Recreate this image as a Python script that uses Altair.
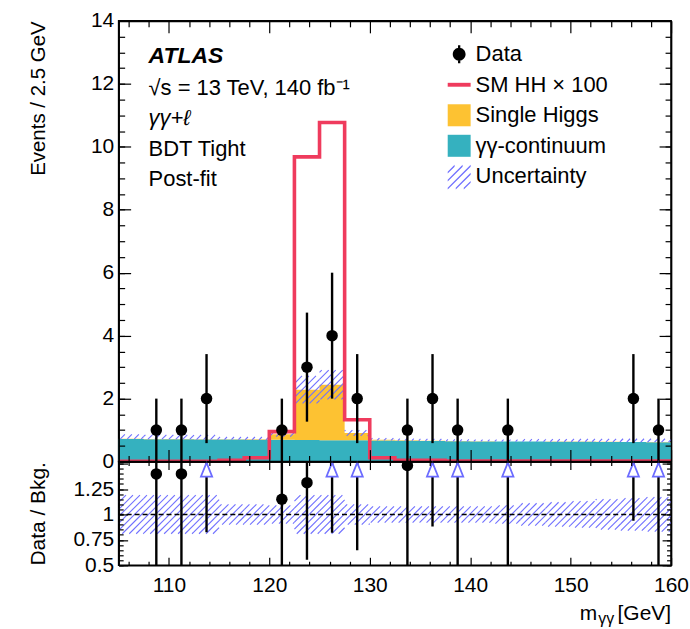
import math
import altair as alt
import pandas as pd

# ---------------- values ----------------
BIN_EDGES = [105.0, 107.5, 110.0, 112.5, 115.0, 117.5, 120.0, 122.5, 125.0, 127.5, 130.0,
             132.5, 135.0, 137.5, 140.0, 142.5, 145.0, 147.5, 150.0, 152.5, 155.0, 157.5, 160.0]
MASS = [106.25, 108.75, 111.25, 113.75, 116.25, 118.75, 121.25, 123.75, 126.25, 128.75, 131.25,
        133.75, 136.25, 138.75, 141.25, 143.75, 146.25, 148.75, 151.25, 153.75, 156.25, 158.75]
DATA = [0, 1, 1, 2, 0, 0, 1, 3, 4, 2, 0, 1, 2, 1, 0, 1, 0, 0, 0, 0, 2, 1]
CONTINUUM = [0.72, 0.71, 0.71, 0.70, 0.70, 0.69, 0.69, 0.685, 0.68, 0.675, 0.67,
             0.665, 0.655, 0.645, 0.64, 0.635, 0.635, 0.63, 0.63, 0.625, 0.62, 0.615]
SINGLE_HIGGS = [0.005, 0.005, 0.005, 0.01, 0.01, 0.02, 0.18, 1.60, 1.76, 0.23, 0.02,
                0.01, 0.01, 0.005, 0.005, 0.005, 0.005, 0.005, 0.005, 0.005, 0.005, 0.005]
HH_X100 = [0.01, 0.01, 0.01, 0.01, 0.04, 0.12, 0.95, 9.68, 10.77, 1.33, 0.12,
           0.04, 0.04, 0.02, 0.02, 0.02, 0.02, 0.02, 0.02, 0.02, 0.02, 0.02]
REL_UNC = [0.19, 0.19, 0.19, 0.19, 0.10, 0.10, 0.09, 0.19, 0.19, 0.10, 0.08,
           0.08, 0.08, 0.08, 0.08, 0.09, 0.11, 0.12, 0.13, 0.15, 0.16, 0.17]

SERIES = ["Data", "SM HH \u00d7 100", "Single Higgs", "\u03b3\u03b3-continuum", "Uncertainty"]

X_MAJOR = [110, 120, 130, 140, 150, 160]
X_MINOR = [106, 108, 112, 114, 116, 118, 122, 124, 126, 128, 132, 134, 136, 138,
           142, 144, 146, 148, 152, 154, 156, 158]
Y_MAJOR = [0, 2, 4, 6, 8, 10, 12, 14]
Y_MINOR = [k * 0.5 for k in range(0, 29)]
R_LABELS = [0.5, 0.75, 1, 1.25]
R_MAJOR = [0.5, 0.75, 1.0, 1.25, 1.5]
R_MINOR = [round(0.5 + k * 0.05, 2) for k in range(0, 21)]

XDOM = [105, 160]
YDOM = [0, 14]
RDOM = [0.5, 1.52]

# ---------------- style ----------------
FONT = "Liberation Sans"
TEAL = "#35B1BF"
YELLOW = "#FDC232"
RED = "#EF3B5D"
HATCH = "#7070FF"
ARROW = "#6B6BFF"
W, H1, H2 = 554, 442, 104

# ---------------- derived tables ----------------
total = [c + s for c, s in zip(CONTINUUM, SINGLE_HIGGS)]

step_df = pd.DataFrame({
    "x": BIN_EDGES,
    "cont": CONTINUUM + [CONTINUUM[-1]],
    "tot": total + [total[-1]],
    "hh": HH_X100 + [HH_X100[-1]],
})

def hatch_rows(lo, hi, ky, y0, step=7.0):
    kx = W / (XDOM[1] - XDOM[0])
    rows = []
    for i in range(len(lo)):
        xa = (BIN_EDGES[i] - XDOM[0]) * kx
        xb = (BIN_EDGES[i + 1] - XDOM[0]) * kx
        ya = (lo[i] - y0) * ky
        yb = (hi[i] - y0) * ky
        if yb <= ya:
            continue
        k0 = math.ceil((xa - yb) / step)
        k1 = math.floor((xb - ya) / step)
        for k in range(k0, k1 + 1):
            c = k * step
            x1 = max(xa, ya + c)
            x2 = min(xb, yb + c)
            if x2 - x1 < 0.3:
                continue
            rows.append({"x": XDOM[0] + x1 / kx, "x2": XDOM[0] + x2 / kx,
                         "y": y0 + (x1 - c) / ky, "y2": y0 + (x2 - c) / ky})
    return pd.DataFrame(rows)

main_lo = [max(t * (1 - r), c) for t, r, c in zip(total, REL_UNC, CONTINUUM)]
main_hi = [t * (1 + r) for t, r in zip(total, REL_UNC)]
hatch_main = hatch_rows(main_lo, main_hi, H1 / (YDOM[1] - YDOM[0]), YDOM[0])
hatch_ratio = hatch_rows([1 - r for r in REL_UNC], [1 + r for r in REL_UNC],
                         H2 / (RDOM[1] - RDOM[0]), RDOM[0])

pts = []
for m, n, t in zip(MASS, DATA, total):
    if n <= 0:
        continue
    e = math.sqrt(n)
    pts.append({"m": m, "n": n, "lo": n - e, "hi": n + e,
                "r": n / t, "rlo": (n - e) / t, "rhi": (n + e) / t,
                "top": RDOM[1], "arrow": n / t > RDOM[1]})
pts_df = pd.DataFrame(pts)
dots_r = pts_df[~pts_df["arrow"]]
arrows_r = pts_df[pts_df["arrow"]]

line1_df = pd.DataFrame({"x": [XDOM[0]], "x2": [XDOM[1]], "y": [1.0]})
legend_df = pd.DataFrame({"series": SERIES})
one = pd.DataFrame({"a": [0]})

# legend symbol paths
def hatch_path():
    parts = []
    d = 0.16
    for c in [-1.4, -0.7, 0.0, 0.7, 1.4]:
        x1 = max(-1.0, c - 1.0)
        x2 = min(1.0, c + 1.0)
        parts.append(f"M{x1:.3f},{c - x1:.3f}L{x2:.3f},{c - x2:.3f}"
                     f"L{x2:.3f},{c - x2 + d:.3f}L{x1:.3f},{c - x1 + d:.3f}Z")
    return "".join(parts)

DATA_PATH = ("M-0.56,0A0.56,0.56 0 1,1 0.56,0A0.56,0.56 0 1,1 -0.56,0Z"
             "M-0.1,-0.78H0.1V-0.55H-0.1Z M-0.1,0.55H0.1V0.78H-0.1Z")
LINE_PATH = "M-1,-0.17H1V0.17H-1Z"
SQUARE_PATH = "M-1,-0.96H1V0.96H-1Z"
LEG_PATHS = [DATA_PATH, LINE_PATH, SQUARE_PATH, SQUARE_PATH, hatch_path()]
LEG_COLORS = ["black", RED, YELLOW, TEAL, HATCH]
TRI_PATH = "M0,-1L0.8,1L-0.8,1Z"

# ---------------- scales & axes ----------------
xs = alt.Scale(domain=XDOM, nice=False, zero=False)
ys = alt.Scale(domain=YDOM, nice=False, zero=False)
rs = alt.Scale(domain=RDOM, nice=False, zero=False)

def tick_axis(orient, offset, values, size, domain=False):
    return alt.Axis(orient=orient, offset=offset, values=values, tickSize=size,
                    labels=False, domain=domain, domainColor="black", domainWidth=1.6,
                    grid=False, title=None, ticks=True, tickColor="black",
                    tickWidth=1.2, minExtent=0, maxExtent=0, zindex=1)

# main panel axes
ax_b_maj = tick_axis("top", -H1, X_MAJOR, 12, True)
ax_b_min = tick_axis("top", -H1, X_MINOR, 6)
ax_t_maj = tick_axis("bottom", -H1, X_MAJOR, 12, True)
ax_t_min = tick_axis("bottom", -H1, X_MINOR, 6)
ay_lab = alt.Axis(orient="left", values=Y_MAJOR, format="d", ticks=False, domain=False,
                  grid=False, labelFontSize=21, labelPadding=5, labelColor="black",
                  labelFont=FONT, title="Events / 2.5 GeV", titleAnchor="end",
                  titleFontSize=20.5, titleFontWeight="normal", titleColor="black",
                  titleFont=FONT, titlePadding=30, minExtent=40, maxExtent=40)
ay_l_maj = tick_axis("right", -W, Y_MAJOR, 12, True)
ay_l_min = tick_axis("right", -W, Y_MINOR, 6)
ay_r_maj = tick_axis("left", -W, Y_MAJOR, 12, True)
ay_r_min = tick_axis("left", -W, Y_MINOR, 6)

# ratio panel axes
rx_lab = alt.Axis(orient="bottom", values=X_MAJOR, format="d", ticks=False, domain=False,
                  grid=False, labelFontSize=21, labelPadding=9, labelFlush=False,
                  labelOverlap=False, labelColor="black", labelFont=FONT,
                  title=None, minExtent=30, maxExtent=30)
rx_b_maj = tick_axis("top", -H2, X_MAJOR, 8, True)
rx_b_min = tick_axis("top", -H2, X_MINOR, 4)
rx_t_maj = tick_axis("bottom", -H2, X_MAJOR, 8, True)
rx_t_min = tick_axis("bottom", -H2, X_MINOR, 4)
ry_lab = alt.Axis(orient="left", values=R_LABELS, format=".3~g", ticks=False, domain=False,
                  grid=False, labelFontSize=21, labelPadding=5, labelColor="black",
                  labelFont=FONT, title="Data / Bkg.", titleAnchor="end",
                  titleFontSize=21, titleFontWeight="normal", titleColor="black",
                  titleFont=FONT, titlePadding=30, minExtent=40, maxExtent=40)
ry_l_maj = tick_axis("right", -W, R_MAJOR, 9, True)
ry_l_min = tick_axis("right", -W, R_MINOR, 4.5)
ry_r_maj = tick_axis("left", -W, R_MAJOR, 9, True)
ry_r_min = tick_axis("left", -W, R_MINOR, 4.5)

# ---------------- main panel ----------------
teal = alt.Chart(step_df).mark_area(interpolate="step-after", color=TEAL).encode(
    x=alt.X("x:Q", scale=xs, axis=ax_b_maj),
    y=alt.Y("cont:Q", scale=ys, axis=ay_lab))
yellow = alt.Chart(step_df).mark_area(interpolate="step-after", color=YELLOW).encode(
    x=alt.X("x:Q", scale=xs, axis=ax_b_min),
    y=alt.Y("tot:Q", scale=ys, axis=ay_l_maj), y2="cont:Q")
hatch1 = alt.Chart(hatch_main).mark_rule(color=HATCH, strokeWidth=1.1).encode(
    x=alt.X("x:Q", scale=xs, axis=ax_t_maj), x2="x2:Q",
    y=alt.Y("y:Q", scale=ys, axis=ay_l_min), y2="y2:Q")
hh = alt.Chart(step_df).mark_line(interpolate="step-after", color=RED, strokeWidth=3.6,
                                  strokeJoin="miter").encode(
    x=alt.X("x:Q", scale=xs, axis=ax_t_min),
    y=alt.Y("hh:Q", scale=ys, axis=ay_r_maj))
err1 = alt.Chart(pts_df).mark_rule(color="black", strokeWidth=2.4).encode(
    x=alt.X("m:Q", scale=xs, axis=None),
    y=alt.Y("lo:Q", scale=ys, axis=ay_r_min), y2="hi:Q")
dots1 = alt.Chart(pts_df).mark_point(filled=True, color="black", size=133, opacity=1).encode(
    x=alt.X("m:Q", scale=xs, axis=None),
    y=alt.Y("n:Q", scale=ys, axis=None))

leg = alt.Legend(orient="none", legendX=330, legendY=22, title=None, symbolSize=529,
                 labelFontSize=22, labelFont=FONT, labelColor="black", labelOffset=5,
                 rowPadding=7.6, padding=0, symbolStrokeWidth=0, symbolOpacity=1,
                 labelLimit=400)
legend_layer = alt.Chart(legend_df).mark_point(filled=True, clip=True, opacity=1).encode(
    x=alt.value(-400), y=alt.value(-400),
    color=alt.Color("series:N", scale=alt.Scale(domain=SERIES, range=LEG_COLORS), legend=leg),
    shape=alt.Shape("series:N", scale=alt.Scale(domain=SERIES, range=LEG_PATHS), legend=leg))

def label(text, x, y, size=22, weight="normal", style="normal", align="left"):
    return alt.Chart(one).mark_text(text=text, font=FONT, fontSize=size, fontWeight=weight,
                                    fontStyle=style, align=align, baseline="alphabetic",
                                    color="black").encode(x=alt.value(x), y=alt.value(y))

texts = [
    label("ATLAS", 30, 42.5, size=23, weight="bold", style="italic"),
    label("\u221as = 13 TeV, 140 fb\u207b\u00b9", 30, 74),
    label("\u03b3\u03b3+\u2113", 30, 104.5, style="italic"),
    label("BDT Tight", 30, 136),
    label("Post-fit", 30, 166),
]

main = alt.layer(teal, yellow, hatch1, hh, err1, dots1, legend_layer, *texts).resolve_axis(
    x="independent", y="independent").properties(width=W, height=H1)

# ---------------- ratio panel ----------------
hatch2 = alt.Chart(hatch_ratio).mark_rule(color=HATCH, strokeWidth=1.1, clip=True).encode(
    x=alt.X("x:Q", scale=xs, axis=rx_lab), x2="x2:Q",
    y=alt.Y("y:Q", scale=rs, axis=ry_lab), y2="y2:Q")
one_line = alt.Chart(line1_df).mark_rule(color="black", strokeWidth=1.5,
                                         strokeDash=[5, 3]).encode(
    x=alt.X("x:Q", scale=xs, axis=rx_b_maj), x2="x2:Q",
    y=alt.Y("y:Q", scale=rs, axis=ry_l_maj))
err2 = alt.Chart(dots_r).mark_rule(color="black", strokeWidth=2.4, clip=True).encode(
    x=alt.X("m:Q", scale=xs, axis=rx_b_min),
    y=alt.Y("rlo:Q", scale=rs, axis=ry_l_min), y2="rhi:Q")
dots2 = alt.Chart(dots_r).mark_point(filled=True, color="black", size=133, opacity=1,
                                     clip=True).encode(
    x=alt.X("m:Q", scale=xs, axis=rx_t_maj),
    y=alt.Y("r:Q", scale=rs, axis=ry_r_maj))
arr_line = alt.Chart(arrows_r).mark_rule(color="black", strokeWidth=2.4, clip=True).encode(
    x=alt.X("m:Q", scale=xs, axis=rx_t_min),
    y=alt.Y("rlo:Q", scale=rs, axis=ry_r_min), y2="top:Q")
arr_tri = alt.Chart(arrows_r).mark_point(shape=TRI_PATH, size=196, filled=True, fill="white",
                                         stroke=ARROW, strokeWidth=1.8, opacity=1).encode(
    x=alt.X("m:Q", scale=xs, axis=None), y=alt.value(8))

# x-axis title m_γγ [GeV] with a real subscript
xtitle = [
    label("m", 462.5, 159, size=21),
    label("\u03b3\u03b3", 481, 163, size=16),
    label("[GeV]", W, 159, size=21, align="right"),
]

ratio = alt.layer(hatch2, one_line, err2, dots2, arr_line, arr_tri, *xtitle).resolve_axis(
    x="independent", y="independent").properties(width=W, height=H2)

chart = alt.vconcat(main, ratio, spacing=0, bounds="flush").resolve_scale(
    x="independent", y="independent", color="independent", shape="independent"
).properties(
    padding={"left": 27, "top": 8, "right": 0, "bottom": 0}
).configure(font=FONT).configure_view(stroke="black", strokeWidth=1.6)

chart.save("out.html", embed_options={"renderer": "svg", "actions": False})
